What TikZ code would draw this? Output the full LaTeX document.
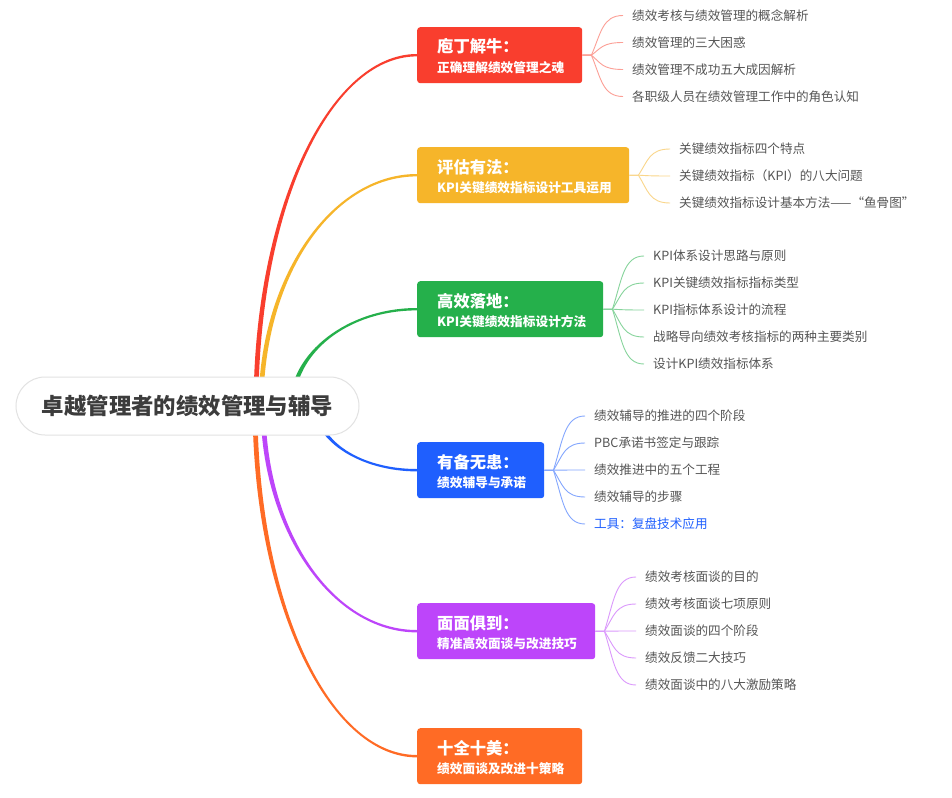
\documentclass[tikz,border=0pt]{standalone}
\usepackage{fontspec}
\setmainfont{Noto Sans CJK SC}
\usetikzlibrary{calc}
\pgfdeclarelayer{bg}
\pgfsetlayers{bg,main}
\definecolor{cR}{HTML}{F93E2E}
\definecolor{cY}{HTML}{F6B52A}
\definecolor{cG}{HTML}{25B04B}
\definecolor{cB}{HTML}{1F5FFE}
\definecolor{cP}{HTML}{BD45FA}
\definecolor{cO}{HTML}{FF6B25}
\definecolor{leaftxt}{HTML}{555555}
\definecolor{roottxt}{HTML}{3C3C3C}
\definecolor{rootln}{HTML}{E2E2E2}
\newcommand\mybranch[4]{%
  \fill[#1] let \p1=#2, \p2=#3, \n1={#4} in
    ({\x1-2.4pt},\y1) .. controls ({\x1-2.4pt},{\y1+0.552*(\y2-\y1)}) and ({\x2-0.552*(\x2-\x1)},{\y2+\n1*1.2pt}) .. ({\x2},{\y2+\n1*1.2pt})
    -- ({\x2},{\y2-\n1*1.2pt}) .. controls ({\x2-0.552*(\x2-\x1)},{\y2-\n1*1.2pt}) and ({\x1+2.4pt},{\y1+0.552*(\y2-\y1)}) .. ({\x1+2.4pt},\y1) -- cycle;}
\newcommand\leafedge[3]{%
  \draw[leafln,#1] let \p1=($(#2.east)+(9,0)$), \p2=(#3.west) in
    (#2.east) -- (\p1) .. controls ({\x1+0.3*(\x2-\x1)},{\y1+0.55*(\y2-\y1)}) and ({\x1+0.35*(\x2-\x1)},\y2) .. (\p2);}
\begin{document}
\begin{tikzpicture}[x=1pt,y=-1pt,
  rootbox/.style={draw=rootln, line width=1pt, fill=white, rounded corners=29pt, minimum width=343pt, minimum height=58pt, inner sep=0pt, text=roottxt, font=\fontsize{22.4}{26}\selectfont\bfseries},
  topicbox/.style={rounded corners=3pt, minimum height=56pt, inner sep=0pt, anchor=north west},
  ttl/.style={anchor=base west, inner sep=0pt, text=white, font=\fontsize{16.3}{19}\selectfont\bfseries},
  subttl/.style={anchor=base west, inner sep=0pt, text=white, font=\fontsize{12.7}{15}\selectfont\bfseries},
  leaf/.style={anchor=west, inner xsep=9pt, inner ysep=0pt, text height=11pt, text depth=1.5pt, text=leaftxt, font=\fontsize{12.6}{15}\selectfont},
  leafln/.style={line width=0.9pt},
]
\useasboundingbox (0,0) rectangle (952,797);

% root
\node[rootbox] (root) at (187.5,406) {卓越管理者的绩效管理与辅导};

% topic boxes
\node[topicbox, fill=cR, minimum width=165pt] (b1) at (417,27) {};
\node[ttl] (t1) at ($(b1.north west)+(20,26)$) {庖丁解牛：};
\node[subttl] (s1) at ($(b1.north west)+(20,45.5)$) {正确理解绩效管理之魂};

\node[topicbox, fill=cY, minimum width=212pt] (b2) at (417,147) {};
\node[ttl] (t2) at ($(b2.north west)+(20,26)$) {评估有法：};
\node[subttl] (s2) at ($(b2.north west)+(20,45.5)$) {KPI关键绩效指标设计工具运用};

\node[topicbox, fill=cG, minimum width=186pt] (b3) at (417,281) {};
\node[ttl] (t3) at ($(b3.north west)+(20,26)$) {高效落地：};
\node[subttl] (s3) at ($(b3.north west)+(20,45.5)$) {KPI关键绩效指标设计方法};

\node[topicbox, fill=cB, minimum width=127pt] (b4) at (417,442) {};
\node[ttl] (t4) at ($(b4.north west)+(20,26)$) {有备无患：};
\node[subttl] (s4) at ($(b4.north west)+(20,45.5)$) {绩效辅导与承诺};

\node[topicbox, fill=cP, minimum width=178pt] (b5) at (417,603) {};
\node[ttl] (t5) at ($(b5.north west)+(20,26)$) {面面俱到：};
\node[subttl] (s5) at ($(b5.north west)+(20,45.5)$) {精准高效面谈与改进技巧};

\node[topicbox, fill=cO, minimum width=165pt] (b6) at (417,728) {};
\node[ttl] (t6) at ($(b6.north west)+(20,26)$) {十全十美：};
\node[subttl] (s6) at ($(b6.north west)+(20,45.5)$) {绩效面谈及改进十策略};

% leaves
\node[leaf] (l11) at (623,15.5) {绩效考核与绩效管理的概念解析};
\node[leaf] (l12) at (623,42.5) {绩效管理的三大困惑};
\node[leaf] (l13) at (623,69.5) {绩效管理不成功五大成因解析};
\node[leaf] (l14) at (623,96.5) {各职级人员在绩效管理工作中的角色认知};

\node[leaf] (l21) at (670,149) {关键绩效指标四个特点};
\node[leaf] (l22) at (670,176) {关键绩效指标（KPI）的八大问题};
\node[leaf] (l23) at (670,203) {关键绩效指标设计基本方法——“鱼骨图”};

\node[leaf] (l31) at (644,256) {KPI体系设计思路与原则};
\node[leaf] (l32) at (644,283) {KPI关键绩效指标指标类型};
\node[leaf] (l33) at (644,310) {KPI指标体系设计的流程};
\node[leaf] (l34) at (644,337) {战略导向绩效考核指标的两种主要类别};
\node[leaf] (l35) at (644,364) {设计KPI绩效指标体系};

\node[leaf] (l41) at (585,416) {绩效辅导的推进的四个阶段};
\node[leaf] (l42) at (585,443) {PBC承诺书签定与跟踪};
\node[leaf] (l43) at (585,470) {绩效推进中的五个工程};
\node[leaf] (l44) at (585,497) {绩效辅导的步骤};
\node[leaf, text=cB] (l45) at (585,524) {工具：复盘技术应用};

\node[leaf] (l51) at (636,577) {绩效考核面谈的目的};
\node[leaf] (l52) at (636,604) {绩效考核面谈七项原则};
\node[leaf] (l53) at (636,631) {绩效面谈的四个阶段};
\node[leaf] (l54) at (636,658) {绩效反馈二大技巧};
\node[leaf] (l55) at (636,685) {绩效面谈中的八大激励策略};

% leaf connectors
\leafedge{cR!50}{b1}{l11}\leafedge{cR!50}{b1}{l12}\leafedge{cR!50}{b1}{l13}\leafedge{cR!50}{b1}{l14}
\leafedge{cY!55}{b2}{l21}\leafedge{cY!55}{b2}{l22}\leafedge{cY!55}{b2}{l23}
\leafedge{cG!55}{b3}{l31}\leafedge{cG!55}{b3}{l32}\leafedge{cG!55}{b3}{l33}\leafedge{cG!55}{b3}{l34}\leafedge{cG!55}{b3}{l35}
\leafedge{cB!55}{b4}{l41}\leafedge{cB!55}{b4}{l42}\leafedge{cB!55}{b4}{l43}\leafedge{cB!55}{b4}{l44}\leafedge{cB!55}{b4}{l45}
\leafedge{cP!55}{b5}{l51}\leafedge{cP!55}{b5}{l52}\leafedge{cP!55}{b5}{l53}\leafedge{cP!55}{b5}{l54}\leafedge{cP!55}{b5}{l55}

% main branches (behind root)
\begin{pgfonlayer}{bg}
\fill[white] (0,0) rectangle (952,797);
\coordinate (sR) at ($(root.center)+(68.5,0)$);
\coordinate (sY) at ($(root.center)+(73.5,0)$);
\coordinate (sG) at ($(root.center)+(104.5,0)$);
\coordinate (sB) at ($(root.center)+(128.5,0)$);
\coordinate (sP) at ($(root.center)+(75.5,0)$);
\coordinate (sO) at ($(root.center)+(67.5,0)$);
\mybranch{cR}{(sR)}{(b1.west)}{1}
\mybranch{cY}{(sY)}{(b2.west)}{1}
\mybranch{cG}{(sG)}{(b3.west)}{1}
\mybranch{cB}{(sB)}{(b4.west)}{-1}
\mybranch{cP}{(sP)}{(b5.west)}{-1}
\mybranch{cO}{(sO)}{(b6.west)}{-1}
\end{pgfonlayer}
\end{tikzpicture}
\end{document}
